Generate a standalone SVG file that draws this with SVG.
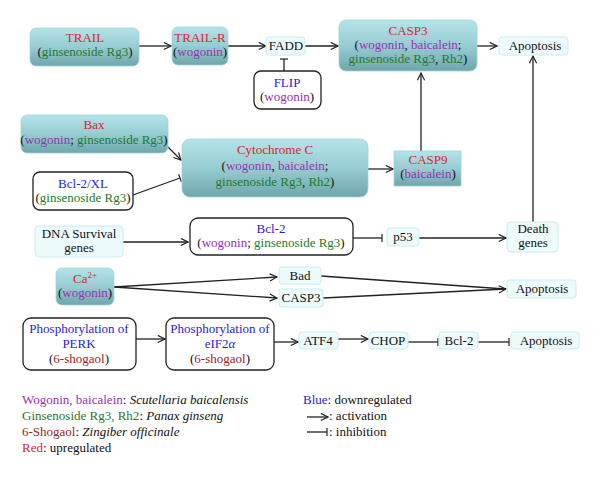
<svg xmlns="http://www.w3.org/2000/svg" width="600" height="478" viewBox="0 0 600 478">
<defs>
<linearGradient id="teal" x1="0" y1="0" x2="0" y2="1">
<stop offset="0" stop-color="#b4e4e9"/>
<stop offset="0.5" stop-color="#97ccd2"/>
<stop offset="1" stop-color="#6fa6ab"/>
</linearGradient>
<marker id="arr" viewBox="0 0 10 10" refX="9" refY="5" markerWidth="9" markerHeight="9" markerUnits="userSpaceOnUse" orient="auto">
<path d="M1,1 L9,5 L1,9" fill="none" stroke="#222" stroke-width="1.3"/>
</marker>
<marker id="bar" viewBox="0 0 10 10" refX="5" refY="5" markerWidth="8" markerHeight="8" markerUnits="userSpaceOnUse" orient="auto">
<path d="M5,0 L5,10" fill="none" stroke="#222" stroke-width="1.5"/>
</marker>
</defs>
<style>
text{font-family:"Liberation Serif","DejaVu Serif",serif;font-size:13px;fill:#111;text-anchor:middle}
.t{fill:url(#teal);stroke:#9fd3d8;stroke-width:0.8}
.p{fill:#eefbfc;stroke:#cbecf0;stroke-width:1}
.w{fill:#fff;stroke:#222;stroke-width:1.3}
.r{fill:#d9252b}
.g{fill:#1f7a2a}
.v{fill:#9b2fb3}
.b{fill:#2424d6}
.d{fill:#9e1c1c}
.c line,.c path{stroke:#222;stroke-width:1.3;fill:none}
.a{marker-end:url(#arr)}
.i{marker-end:url(#bar)}
.lg{text-anchor:start}
.it{font-style:italic}
</style>
<g class="c" id="connectors">
<line class="a" x1="139" y1="46" x2="171" y2="46"/>
<line class="a" x1="228" y1="46" x2="266" y2="46"/>
<line class="a" x1="305" y1="46" x2="338" y2="46"/>
<line class="a" x1="477" y1="46" x2="497" y2="46"/>
<line class="i" x1="284" y1="71" x2="284" y2="59"/>
<line class="a" x1="421" y1="151" x2="421" y2="73"/>
<line class="a" x1="533" y1="222" x2="533" y2="56"/>
<line class="a" x1="168" y1="147" x2="181" y2="160"/>
<line class="i" x1="133" y1="195" x2="180" y2="178"/>
<line class="a" x1="368" y1="169" x2="393" y2="169"/>
<line class="a" x1="123" y1="242" x2="188" y2="242"/>
<line class="i" x1="353" y1="238" x2="382" y2="238"/>
<line class="a" x1="419" y1="238" x2="506" y2="238"/>
<line class="a" x1="114" y1="287" x2="277" y2="277"/>
<line class="a" x1="114" y1="287" x2="277" y2="298"/>
<line x1="321" y1="276" x2="505" y2="289"/>
<line class="a" x1="323" y1="298" x2="506" y2="289"/>
<line class="a" x1="136" y1="339" x2="165" y2="339"/>
<line class="a" x1="274" y1="342" x2="298" y2="342"/>
<line class="a" x1="338" y1="339" x2="368" y2="339"/>
<line class="i" x1="408" y1="342" x2="438" y2="342"/>
<line class="i" x1="478" y1="342" x2="509" y2="342"/>
</g>
<g id="trail"><rect class="t" x="30" y="28" width="109" height="38" rx="6"/>
<text x="85" y="42" class="r">TRAIL</text>
<text x="85" y="56">(<tspan class="g">ginsenoside Rg3</tspan>)</text></g>
<g id="trailr"><rect class="t" x="172" y="27" width="56" height="38" rx="6"/>
<text x="200" y="42" class="r">TRAIL-R</text>
<text x="200" y="56">(<tspan class="v">wogonin</tspan>)</text></g>
<g id="fadd"><rect class="p" x="266" y="37" width="39" height="18" rx="3"/>
<text x="286" y="50">FADD</text></g>
<g id="flip"><rect class="w" x="254" y="71" width="67" height="38" rx="7"/>
<text x="287" y="87" class="b">FLIP</text>
<text x="287" y="101">(<tspan class="v">wogonin</tspan>)</text></g>
<g id="casp3"><rect class="t" x="339" y="20" width="138" height="51" rx="7"/>
<text x="408" y="35" class="r">CASP3</text>
<text x="408" y="49">(<tspan class="v">wogonin</tspan>, <tspan class="v">baicalein</tspan>;</text>
<text x="408" y="63"><tspan class="g">ginsenoside Rg3</tspan>, <tspan class="g">Rh2</tspan>)</text></g>
<g id="apop1"><rect class="p" x="499" y="37" width="69" height="18" rx="3"/>
<text x="535" y="50">Apoptosis</text></g>
<g id="bax"><rect class="t" x="21" y="115" width="147" height="38" rx="6"/>
<text x="94" y="129" class="r">Bax</text>
<text x="94" y="144">(<tspan class="v">wogonin</tspan>; <tspan class="g">ginsenoside Rg3</tspan>)</text></g>
<g id="bclxl"><rect class="w" x="33" y="172" width="100" height="38" rx="7"/>
<text x="83" y="188" class="b">Bcl-2/XL</text>
<text x="83" y="202">(<tspan class="g">ginsenoside Rg3</tspan>)</text></g>
<g id="cytc"><rect class="t" x="182" y="139" width="186" height="58" rx="8"/>
<text x="275" y="154" class="r">Cytochrome C</text>
<text x="275" y="170">(<tspan class="v">wogonin</tspan>, <tspan class="v">baicalein</tspan>;</text>
<text x="275" y="186"><tspan class="g">ginsenoside Rg3</tspan>, <tspan class="g">Rh2</tspan>)</text></g>
<g id="casp9"><rect class="t" x="394" y="151" width="67" height="35"/>
<text x="428" y="164" class="r">CASP9</text>
<text x="428" y="178">(<tspan class="v">baicalein</tspan>)</text></g>
<g id="dna"><rect class="p" x="35" y="226" width="88" height="31" rx="4"/>
<text x="79" y="238">DNA Survival</text>
<text x="79" y="252">genes</text></g>
<g id="bcl2a"><rect class="w" x="190" y="218" width="163" height="37" rx="8"/>
<text x="271" y="233" class="b">Bcl-2</text>
<text x="271" y="247">(<tspan class="v">wogonin</tspan>; <tspan class="g">ginsenoside Rg3</tspan>)</text></g>
<g id="p53"><rect class="p" x="387" y="228" width="32" height="18" rx="3"/>
<text x="403" y="241">p53</text></g>
<g id="death"><rect class="p" x="507" y="222" width="51" height="30" rx="4"/>
<text x="533" y="233">Death</text>
<text x="533" y="247">genes</text></g>
<g id="ca"><rect class="t" x="56" y="268" width="58" height="37" rx="6"/>
<text x="85" y="283" class="r">Ca<tspan font-size="9" dy="-5">2+</tspan></text>
<text x="85" y="297">(<tspan class="v">wogonin</tspan>)</text></g>
<g id="bad"><rect class="p" x="279" y="267" width="42" height="17" rx="3"/>
<text x="300" y="280">Bad</text></g>
<g id="casp3b"><rect class="p" x="279" y="289" width="44" height="18" rx="3"/>
<text x="301" y="302">CASP3</text></g>
<g id="apop2"><rect class="p" x="507" y="280" width="69" height="18" rx="3"/>
<text x="542" y="293">Apoptosis</text></g>
<g id="perk"><rect class="w" x="23" y="318" width="113" height="52" rx="8"/>
<text x="79" y="333" class="b">Phosphorylation of</text>
<text x="79" y="348" class="b">PERK</text>
<text x="79" y="363">(<tspan class="d">6-shogaol</tspan>)</text></g>
<g id="eif2"><rect class="w" x="166" y="318" width="108" height="52" rx="8"/>
<text x="220" y="333" class="b">Phosphorylation of</text>
<text x="220" y="348" class="b">eIF2<tspan class="it">α</tspan></text>
<text x="220" y="363">(<tspan class="d">6-shogaol</tspan>)</text></g>
<g id="atf4"><rect class="p" x="299" y="332" width="39" height="17" rx="3"/>
<text x="318" y="345">ATF4</text></g>
<g id="chop"><rect class="p" x="369" y="332" width="39" height="17" rx="3"/>
<text x="388" y="345">CHOP</text></g>
<g id="bcl2b"><rect class="p" x="439" y="332" width="39" height="17" rx="3"/>
<text x="459" y="345">Bcl-2</text></g>
<g id="apop3"><rect class="p" x="511" y="332" width="68" height="17" rx="3"/>
<text x="546" y="345">Apoptosis</text></g>
<g id="legend">
<text class="lg" x="22" y="404"><tspan class="v">Wogonin, baicalein</tspan>: <tspan class="it">Scutellaria baicalensis</tspan></text>
<text class="lg" x="22" y="420"><tspan class="g">Ginsenoside Rg3, Rh2</tspan>: <tspan class="it">Panax ginseng</tspan></text>
<text class="lg" x="22" y="436"><tspan class="d">6-Shogaol</tspan>: <tspan class="it">Zingiber officinale</tspan></text>
<text class="lg" x="22" y="452"><tspan class="r">Red</tspan>: upregulated</text>
<text class="lg" x="303" y="404"><tspan class="b">Blue</tspan>: downregulated</text>
<text class="lg" x="329" y="420">: activation</text>
<text class="lg" x="329" y="436">: inhibition</text>
<g class="c"><line class="a" x1="307" y1="417" x2="328" y2="417"/>
<line class="i" x1="307" y1="432" x2="327" y2="432"/></g>
</g>
</svg>
